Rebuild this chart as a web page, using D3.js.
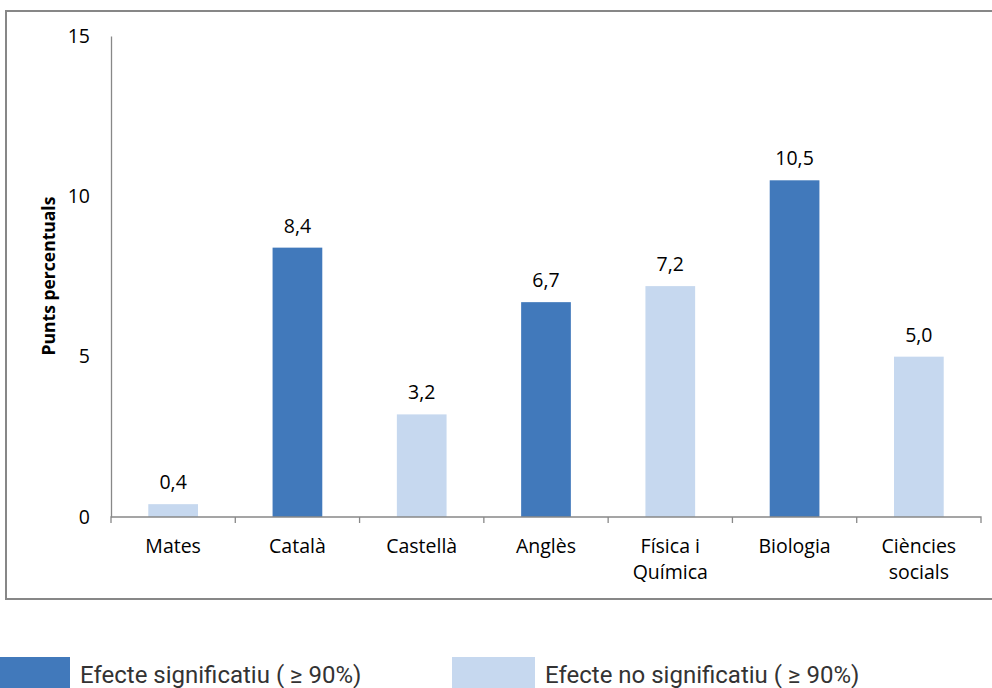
<!DOCTYPE html>
<html>
<head>
<meta charset="utf-8">
<script src="https://cdn.jsdelivr.net/npm/d3@7"></script>
<style>
  body { margin: 0; background: #fff; }
  svg { display: block; }
</style>
</head>
<body>
<div id="chart"></div>
<script>
// data
const subjects = [["Mates"], ["Català"], ["Castellà"], ["Anglès"], ["Física i", "Química"], ["Biologia"], ["Ciències", "socials"]];
const values = [0.4, 8.4, 3.2, 6.7, 7.2, 10.5, 5.0];
const significant = [false, true, false, true, false, true, false];
const yTicks = [0, 5, 10, 15];
const legendLabels = ["Efecte significatiu ( ≥ 90%)", "Efecte no significatiu ( ≥ 90%)"];

const width = 992, height = 688;
const darkBlue = "#4179bb", lightBlue = "#c6d8ef";
const font = "'Open Sans', Lato, sans-serif";
const fs = 19.5;

const svg = d3.select("#chart").append("svg")
  .attr("width", width).attr("height", height);

// outer frame
svg.append("rect")
  .attr("x", 6).attr("y", 11)
  .attr("width", 1000).attr("height", 588)
  .attr("fill", "none").attr("stroke", "#878787").attr("stroke-width", 2);

const x = d3.scaleBand()
  .domain(d3.range(subjects.length))
  .range([111, 981]);

const y = d3.scaleLinear().domain([0, 15]).range([517, 36]);

const barW = x.bandwidth() * 0.4;

// bars
svg.append("g").selectAll("rect")
  .data(values)
  .join("rect")
  .attr("x", (d, i) => x(i) + (x.bandwidth() - barW) / 2)
  .attr("y", d => y(d))
  .attr("width", barW)
  .attr("height", d => y(0) - y(d))
  .attr("fill", (d, i) => significant[i] ? darkBlue : lightBlue);

// value labels
svg.append("g").selectAll("text")
  .data(values)
  .join("text")
  .attr("x", (d, i) => x(i) + x.bandwidth() / 2)
  .attr("y", d => y(d) - 15)
  .attr("text-anchor", "middle")
  .attr("font-family", font).attr("font-size", fs).attr("fill", "#000")
  .text(d => d3.format(".1f")(d).replace(".", ","));

// y axis
const yAxis = svg.append("g")
  .attr("transform", "translate(111,0)")
  .call(d3.axisLeft(y).tickValues(yTicks).tickSize(0).tickPadding(21));
yAxis.select(".domain").attr("stroke", "#888").attr("stroke-width", 1.3);
yAxis.selectAll("text").attr("font-family", font).attr("font-size", fs).attr("fill", "#000");

// x axis
const xAxis = svg.append("g")
  .attr("transform", "translate(0,517)");
xAxis.append("path")
  .attr("d", `M111,6V0H981V6`)
  .attr("fill", "none").attr("stroke", "#888").attr("stroke-width", 1.3);
xAxis.selectAll("line")
  .data(d3.range(1, subjects.length))
  .join("line")
  .attr("x1", i => x(i)).attr("x2", i => x(i))
  .attr("y1", 0).attr("y2", 6)
  .attr("stroke", "#888").attr("stroke-width", 1.3);

const catLabels = xAxis.selectAll("text")
  .data(subjects)
  .join("text")
  .attr("x", (d, i) => x(i) + x.bandwidth() / 2)
  .attr("y", 36)
  .attr("text-anchor", "middle")
  .attr("font-family", font).attr("font-size", fs).attr("fill", "#000");
catLabels.selectAll("tspan")
  .data(d => d)
  .join("tspan")
  .attr("x", function () { return this.parentNode.getAttribute("x"); })
  .attr("dy", (d, j) => j === 0 ? 0 : 26)
  .text(d => d);

// y axis title
svg.append("text")
  .attr("transform", "translate(55,276) rotate(-90)")
  .attr("text-anchor", "middle")
  .attr("font-family", font).attr("font-size", 17.5).attr("font-weight", "bold")
  .text("Punts percentuals");

// legend (first swatch runs off the left edge)
const legend = svg.append("g").selectAll("g")
  .data(legendLabels)
  .join("g")
  .attr("transform", (d, i) => `translate(${i === 0 ? -13 : 452},657)`);
legend.append("rect")
  .attr("width", 83).attr("height", 34)
  .attr("fill", (d, i) => i === 0 ? darkBlue : lightBlue);
legend.append("text")
  .attr("x", 93).attr("y", 26)
  .attr("font-family", "Roboto, sans-serif").attr("font-size", 24).attr("fill", "#333")
  .text(d => d);
</script>
</body>
</html>
